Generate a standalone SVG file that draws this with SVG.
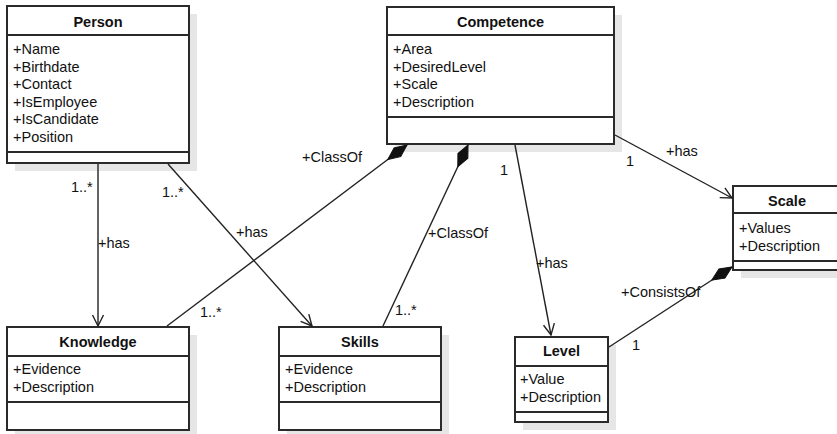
<svg xmlns="http://www.w3.org/2000/svg" width="837" height="434" viewBox="0 0 837 434">
  <style>
    text { font-family: "Liberation Sans", Arial, sans-serif; font-size: 14.5px; fill: #111; }
    .title { font-weight: bold; text-anchor: middle; }
    .box { fill: #fff; stroke: #2a2a2a; stroke-width: 2; }
    .sep { stroke: #2a2a2a; stroke-width: 2; }
    .shadow { fill: #e6e6e6; }
    .conn { stroke: #222; stroke-width: 1.4; fill: none; }
  </style>
  <defs>
    <marker id="arrow" markerUnits="userSpaceOnUse" markerWidth="16" markerHeight="16" viewBox="-14 -8 16 16" refX="0" refY="0" orient="auto">
      <path d="M-11,-5.5 L0,0 L-11,5.5" fill="none" stroke="#222" stroke-width="1.4"/>
    </marker>
    <marker id="diamond" markerUnits="userSpaceOnUse" markerWidth="28" markerHeight="16" viewBox="-1 -8 28 16" refX="24" refY="0" orient="auto">
      <path d="M0,0 L12,-5.5 L24,0 L12,5.5 Z" fill="#111" stroke="#111" stroke-width="1"/>
    </marker>
  </defs>

  <g id="person">
    <rect class="shadow" x="15" y="14" width="182" height="157"/>
    <rect class="box" x="7" y="6" width="182" height="157"/>
    <line class="sep" x1="7" y1="35" x2="189" y2="35"/>
    <line class="sep" x1="7" y1="152" x2="189" y2="152"/>
    <text class="title" x="98" y="27">Person</text>
    <text x="13" y="54">+Name</text>
    <text x="13" y="71.5">+Birthdate</text>
    <text x="13" y="89">+Contact</text>
    <text x="13" y="106.5">+IsEmployee</text>
    <text x="13" y="124">+IsCandidate</text>
    <text x="13" y="141.5">+Position</text>
  </g>

  <g id="competence">
    <rect class="shadow" x="395" y="15" width="227" height="137"/>
    <rect class="box" x="387" y="7" width="227" height="137"/>
    <line class="sep" x1="387" y1="35" x2="614" y2="35"/>
    <line class="sep" x1="387" y1="117" x2="614" y2="117"/>
    <text class="title" x="500.5" y="27">Competence</text>
    <text x="393" y="54">+Area</text>
    <text x="393" y="71.5">+DesiredLevel</text>
    <text x="393" y="89">+Scale</text>
    <text x="393" y="106.5">+Description</text>
  </g>

  <g id="scale">
    <rect class="shadow" x="741" y="194" width="108" height="84"/>
    <rect class="box" x="733" y="186" width="108" height="84"/>
    <line class="sep" x1="733" y1="213" x2="841" y2="213"/>
    <line class="sep" x1="733" y1="261" x2="841" y2="261"/>
    <text class="title" x="787" y="206">Scale</text>
    <text x="739" y="233">+Values</text>
    <text x="739" y="250.5">+Description</text>
  </g>

  <g id="knowledge">
    <rect class="shadow" x="15" y="335" width="182" height="103"/>
    <rect class="box" x="7" y="327" width="182" height="103"/>
    <line class="sep" x1="7" y1="356" x2="189" y2="356"/>
    <line class="sep" x1="7" y1="402" x2="189" y2="402"/>
    <text class="title" x="98" y="347">Knowledge</text>
    <text x="13" y="374">+Evidence</text>
    <text x="13" y="391.5">+Description</text>
  </g>

  <g id="skills">
    <rect class="shadow" x="287" y="335" width="162" height="103"/>
    <rect class="box" x="279" y="327" width="162" height="103"/>
    <line class="sep" x1="279" y1="356" x2="441" y2="356"/>
    <line class="sep" x1="279" y1="402" x2="441" y2="402"/>
    <text class="title" x="360" y="347">Skills</text>
    <text x="285" y="374">+Evidence</text>
    <text x="285" y="391.5">+Description</text>
  </g>

  <g id="level">
    <rect class="shadow" x="523" y="345" width="93" height="85"/>
    <rect class="box" x="515" y="337" width="93" height="85"/>
    <line class="sep" x1="515" y1="366" x2="608" y2="366"/>
    <line class="sep" x1="515" y1="412" x2="608" y2="412"/>
    <text class="title" x="561.5" y="356">Level</text>
    <text x="520" y="384">+Value</text>
    <text x="520" y="401.5">+Description</text>
  </g>

  <!-- associations, drawn over the box shadows -->
  <g id="connectors">
    <line class="conn" x1="98" y1="164" x2="98" y2="326" marker-end="url(#arrow)"/>
    <text x="71" y="192">1..*</text>
    <text x="98" y="248">+has</text>

    <line class="conn" x1="168" y1="164" x2="312" y2="326" marker-end="url(#arrow)"/>
    <text x="162" y="197">1..*</text>
    <text x="236" y="237">+has</text>

    <line class="conn" x1="167" y1="326" x2="407" y2="145" marker-end="url(#diamond)"/>
    <text x="302" y="162">+ClassOf</text>
    <text x="200" y="317">1..*</text>

    <line class="conn" x1="383" y1="326" x2="468" y2="145" marker-end="url(#diamond)"/>
    <text x="428" y="238">+ClassOf</text>
    <text x="395" y="315">1..*</text>

    <line class="conn" x1="515" y1="145" x2="551" y2="335" marker-end="url(#arrow)"/>
    <text x="500" y="175">1</text>
    <text x="536" y="268">+has</text>

    <line class="conn" x1="615" y1="135" x2="732" y2="198" marker-end="url(#arrow)"/>
    <text x="626" y="166">1</text>
    <text x="666" y="156">+has</text>

    <line class="conn" x1="609" y1="347" x2="732" y2="267" marker-end="url(#diamond)"/>
    <text x="621" y="297">+ConsistsOf</text>
    <text x="632" y="350">1</text>
  </g>
</svg>
